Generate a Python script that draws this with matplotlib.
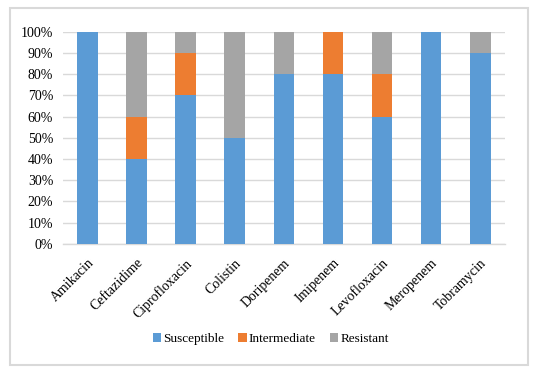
import numpy as np
import matplotlib
matplotlib.use('Agg')
import matplotlib.pyplot as plt
from matplotlib.patches import Rectangle
from matplotlib.ticker import FuncFormatter

plt.rcParams['font.family'] = ['Liberation Serif', 'DejaVu Serif']

drugs = ['Amikacin', 'Ceftazidime', 'Ciprofloxacin', 'Colistin', 'Doripenem',
         'Imipenem', 'Levofloxacin', 'Meropenem', 'Tobramycin']
susceptible = [100, 40, 70, 50, 80, 80, 60, 100, 90]
intermediate = [0, 20, 20, 0, 0, 20, 20, 0, 0]
resistant = [0, 40, 10, 50, 20, 0, 20, 0, 10]

fig = plt.figure(figsize=(5.33, 3.70), dpi=100)
ax = fig.add_axes([0.118, 0.341, 0.829, 0.573])

# outer frame like the excel chart border
fig.patches.append(Rectangle((10 / 533, 5 / 370), 518 / 533, 357 / 370,
                             transform=fig.transFigure, fill=False,
                             edgecolor='#d9d9d9', linewidth=1.5))

x = np.arange(len(drugs))
s = np.array(susceptible)
m = np.array(intermediate)
r = np.array(resistant)
w = 0.42
ax.bar(x, s, w, color='#5b9bd5', label='Susceptible', zorder=3)
ax.bar(x, m, w, bottom=s, color='#ed7d31', label='Intermediate', zorder=3)
ax.bar(x, r, w, bottom=s + m, color='#a5a5a5', label='Resistant', zorder=3)

ax.set_ylim(0, 100)
ax.set_xlim(-0.5, len(drugs) - 0.5)
ax.set_yticks(range(0, 101, 10))
ax.yaxis.set_major_formatter(FuncFormatter(lambda v, p: f'{int(v)}%'))
ax.grid(axis='y', color='#d9d9d9', linewidth=1, zorder=0)
ax.set_xticks(x)
ax.set_xticklabels(drugs, rotation=45, ha='right', rotation_mode='anchor')
ax.tick_params(length=0, labelsize=10, colors='black')
ax.tick_params(axis='x', pad=9)
ax.tick_params(axis='y', pad=7)
for sp in ['top', 'right', 'left']:
    ax.spines[sp].set_visible(False)
ax.spines['bottom'].set_color('#d9d9d9')
ax.spines['bottom'].set_linewidth(1)

fig.legend(loc='center', bbox_to_anchor=(0.508, 0.083), ncol=3, frameon=False,
           fontsize=9.5, handlelength=0.65, handleheight=0.65, handletextpad=0.15,
           columnspacing=1.05)

fig.savefig('out.png', dpi=100)
